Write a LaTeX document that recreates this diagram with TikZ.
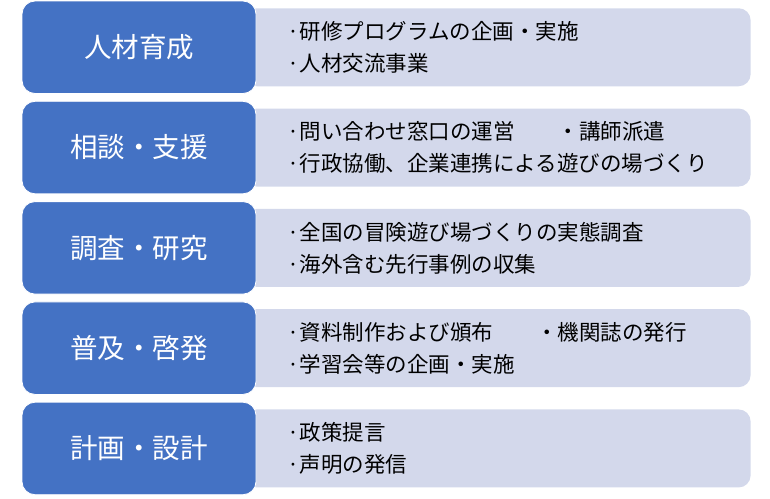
\documentclass[tikz,border=0pt]{standalone}
\usepackage{fontspec}
\setmainfont{Noto Sans CJK JP}
\usetikzlibrary{positioning,backgrounds}
\definecolor{headblue}{HTML}{4472C4}
\definecolor{itemgray}{HTML}{D3D8EB}

\begin{document}
\begin{tikzpicture}[x=1pt,y=1pt,node distance=7pt,
		head node/.style={rectangle,rounded corners=13pt,draw=white,line width=0.8pt,fill=headblue,text=white,
			minimum width=234pt,minimum height=92.5pt,font=\fontsize{27.5}{32}\selectfont},
		item node/.style={rectangle,rounded corners=12pt,fill=itemgray,minimum width=506pt,minimum height=78pt,
			text width=420pt,inner xsep=43pt,align=left,font=\fontsize{21.5}{32}\selectfont}]

		\useasboundingbox (0,0) rectangle (770,-498);

		\node[head node] (h1) at (139,-47.25) {人材育成};
		\node[head node] (h2) [below=of h1] {相談・支援};
		\node[head node] (h3) [below=of h2] {調査・研究};
		\node[head node] (h4) [below=of h3] {普及・啓発};
		\node[head node] (h5) [below=of h4] {計画・設計};

		\begin{scope}[on background layer]
		\node[item node] (i1) [right=-12pt of h1] {·研修プログラムの企画・実施\\·人材交流事業};
		\node[item node] (i2) [right=-12pt of h2] {·問い合わせ窓口の運営　　・講師派遣\\·行政協働、企業連携による遊びの場づくり};
		\node[item node] (i3) [right=-12pt of h3] {·全国の冒険遊び場づくりの実態調査\\·海外含む先行事例の収集};
		\node[item node] (i4) [right=-12pt of h4] {·資料制作および頒布　　・機関誌の発行\\·学習会等の企画・実施};
		\node[item node] (i5) [right=-12pt of h5] {·政策提言\\·声明の発信};
		\end{scope}
	\end{tikzpicture}
\end{document}
